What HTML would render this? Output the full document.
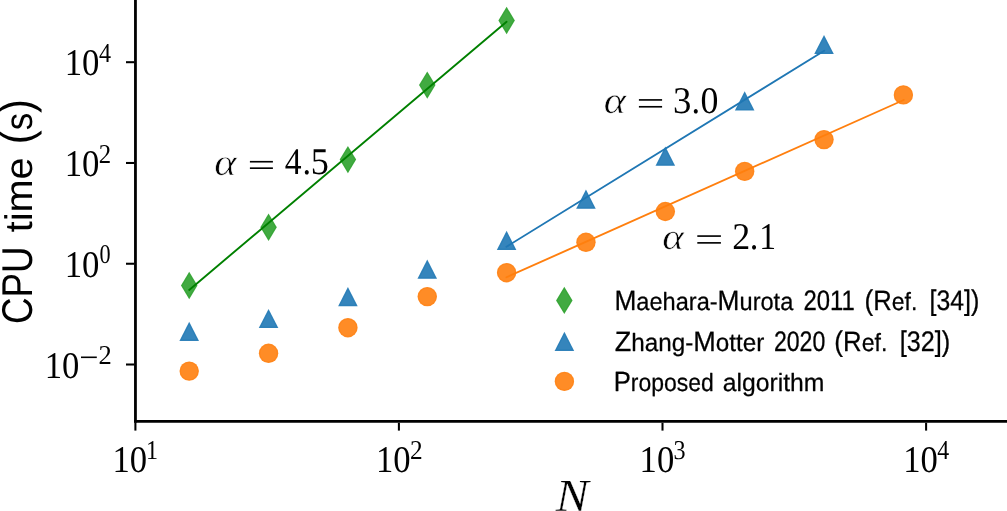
<!DOCTYPE html>
<html><head><meta charset="utf-8"><title>CPU time vs N</title>
<style>html,body{margin:0;padding:0;background:#fff;overflow:hidden}svg{display:block}</style>
</head><body><svg width="1007" height="511" viewBox="0 0 1007 511"><rect width="1007" height="511" fill="#fff"/><g><path d="M189.21 271.80L197.46 285.50L189.21 299.20L180.96 285.50Z" fill="rgb(65,170,65)"/><path d="M189.21 273.74L196.29 285.50L189.21 297.26L182.12 285.50Z" fill="none" stroke="#2ca02c" stroke-opacity="0.55" stroke-width="0.8"/><path d="M268.56 213.60L276.81 227.30L268.56 241.00L260.31 227.30Z" fill="rgb(65,170,65)"/><path d="M268.56 215.54L275.64 227.30L268.56 239.06L261.47 227.30Z" fill="none" stroke="#2ca02c" stroke-opacity="0.55" stroke-width="0.8"/><path d="M347.91 145.90L356.16 159.60L347.91 173.30L339.66 159.60Z" fill="rgb(65,170,65)"/><path d="M347.91 147.84L354.99 159.60L347.91 171.36L340.83 159.60Z" fill="none" stroke="#2ca02c" stroke-opacity="0.55" stroke-width="0.8"/><path d="M427.26 71.40L435.51 85.10L427.26 98.80L419.01 85.10Z" fill="rgb(65,170,65)"/><path d="M427.26 73.34L434.34 85.10L427.26 96.86L420.18 85.10Z" fill="none" stroke="#2ca02c" stroke-opacity="0.55" stroke-width="0.8"/><path d="M506.61 6.80L514.86 20.50L506.61 34.20L498.36 20.50Z" fill="rgb(65,170,65)"/><path d="M506.61 8.74L513.69 20.50L506.61 32.26L499.53 20.50Z" fill="none" stroke="#2ca02c" stroke-opacity="0.55" stroke-width="0.8"/><path d="M189.21 321.70L199.01 340.90L179.41 340.90Z" fill="rgb(53,133,188)"/><path d="M189.21 323.90L197.37 339.90L181.04 339.90Z" fill="none" stroke="#1f77b4" stroke-opacity="0.55" stroke-width="0.8"/><path d="M268.56 308.90L278.36 328.10L258.76 328.10Z" fill="rgb(53,133,188)"/><path d="M268.56 311.10L276.72 327.10L260.39 327.10Z" fill="none" stroke="#1f77b4" stroke-opacity="0.55" stroke-width="0.8"/><path d="M347.91 287.10L357.71 306.30L338.11 306.30Z" fill="rgb(53,133,188)"/><path d="M347.91 289.30L356.08 305.30L339.74 305.30Z" fill="none" stroke="#1f77b4" stroke-opacity="0.55" stroke-width="0.8"/><path d="M427.26 259.60L437.06 278.80L417.46 278.80Z" fill="rgb(53,133,188)"/><path d="M427.26 261.80L435.43 277.80L419.09 277.80Z" fill="none" stroke="#1f77b4" stroke-opacity="0.55" stroke-width="0.8"/><path d="M506.61 230.85L516.41 250.05L496.81 250.05Z" fill="rgb(53,133,188)"/><path d="M506.61 233.05L514.78 249.05L498.45 249.05Z" fill="none" stroke="#1f77b4" stroke-opacity="0.55" stroke-width="0.8"/><path d="M585.96 189.60L595.76 208.80L576.16 208.80Z" fill="rgb(53,133,188)"/><path d="M585.96 191.80L594.13 207.80L577.80 207.80Z" fill="none" stroke="#1f77b4" stroke-opacity="0.55" stroke-width="0.8"/><path d="M665.32 146.60L675.12 165.80L655.52 165.80Z" fill="rgb(53,133,188)"/><path d="M665.32 148.80L673.48 164.80L657.15 164.80Z" fill="none" stroke="#1f77b4" stroke-opacity="0.55" stroke-width="0.8"/><path d="M744.67 91.30L754.47 110.50L734.87 110.50Z" fill="rgb(53,133,188)"/><path d="M744.67 93.50L752.83 109.50L736.50 109.50Z" fill="none" stroke="#1f77b4" stroke-opacity="0.55" stroke-width="0.8"/><path d="M824.02 34.90L833.82 54.10L814.22 54.10Z" fill="rgb(53,133,188)"/><path d="M824.02 37.10L832.18 53.10L815.85 53.10Z" fill="none" stroke="#1f77b4" stroke-opacity="0.55" stroke-width="0.8"/><circle cx="189.21" cy="371.10" r="9.7" fill="rgb(255,140,38)"/><circle cx="189.21" cy="371.10" r="8.70" fill="none" stroke="#ff7f0e" stroke-opacity="0.55" stroke-width="0.8"/><circle cx="268.56" cy="353.30" r="9.7" fill="rgb(255,140,38)"/><circle cx="268.56" cy="353.30" r="8.70" fill="none" stroke="#ff7f0e" stroke-opacity="0.55" stroke-width="0.8"/><circle cx="347.91" cy="327.70" r="9.7" fill="rgb(255,140,38)"/><circle cx="347.91" cy="327.70" r="8.70" fill="none" stroke="#ff7f0e" stroke-opacity="0.55" stroke-width="0.8"/><circle cx="427.26" cy="296.60" r="9.7" fill="rgb(255,140,38)"/><circle cx="427.26" cy="296.60" r="8.70" fill="none" stroke="#ff7f0e" stroke-opacity="0.55" stroke-width="0.8"/><circle cx="506.61" cy="272.70" r="9.7" fill="rgb(255,140,38)"/><circle cx="506.61" cy="272.70" r="8.70" fill="none" stroke="#ff7f0e" stroke-opacity="0.55" stroke-width="0.8"/><circle cx="585.96" cy="242.30" r="9.7" fill="rgb(255,140,38)"/><circle cx="585.96" cy="242.30" r="8.70" fill="none" stroke="#ff7f0e" stroke-opacity="0.55" stroke-width="0.8"/><circle cx="665.32" cy="211.50" r="9.7" fill="rgb(255,140,38)"/><circle cx="665.32" cy="211.50" r="8.70" fill="none" stroke="#ff7f0e" stroke-opacity="0.55" stroke-width="0.8"/><circle cx="744.67" cy="171.40" r="9.7" fill="rgb(255,140,38)"/><circle cx="744.67" cy="171.40" r="8.70" fill="none" stroke="#ff7f0e" stroke-opacity="0.55" stroke-width="0.8"/><circle cx="824.02" cy="139.60" r="9.7" fill="rgb(255,140,38)"/><circle cx="824.02" cy="139.60" r="8.70" fill="none" stroke="#ff7f0e" stroke-opacity="0.55" stroke-width="0.8"/><circle cx="903.37" cy="94.90" r="9.7" fill="rgb(255,140,38)"/><circle cx="903.37" cy="94.90" r="8.70" fill="none" stroke="#ff7f0e" stroke-opacity="0.55" stroke-width="0.8"/><path d="M564.30 286.70L572.55 300.40L564.30 314.10L556.05 300.40Z" fill="rgb(65,170,65)"/><path d="M564.30 288.64L571.38 300.40L564.30 312.16L557.22 300.40Z" fill="none" stroke="#2ca02c" stroke-opacity="0.55" stroke-width="0.8"/><path d="M564.40 331.70L574.20 350.90L554.60 350.90Z" fill="rgb(53,133,188)"/><path d="M564.40 333.90L572.57 349.90L556.23 349.90Z" fill="none" stroke="#1f77b4" stroke-opacity="0.55" stroke-width="0.8"/><circle cx="564.40" cy="381.40" r="9.7" fill="rgb(255,140,38)"/><circle cx="564.40" cy="381.40" r="8.70" fill="none" stroke="#ff7f0e" stroke-opacity="0.55" stroke-width="0.8"/></g><g><line x1="189.2" y1="289.9" x2="506.6" y2="21.75" stroke="#008000" stroke-width="1.9" stroke-linecap="round"/><line x1="506.45" y1="246.7" x2="824.2" y2="50.7" stroke="#1f77b4" stroke-width="1.9" stroke-linecap="round"/><line x1="506.45" y1="277.25" x2="903.7" y2="100.0" stroke="#ff7f0e" stroke-width="1.9" stroke-linecap="round"/></g><g><line x1="135.45" y1="0" x2="135.45" y2="422.8" stroke="#000" stroke-width="2.8"/><line x1="134.05" y1="421.4" x2="1007" y2="421.4" stroke="#000" stroke-width="2.8"/><line x1="126.0" y1="62.20" x2="134.1" y2="62.20" stroke="#000" stroke-width="2.05"/><line x1="126.0" y1="162.97" x2="134.1" y2="162.97" stroke="#000" stroke-width="2.05"/><line x1="126.0" y1="263.74" x2="134.1" y2="263.74" stroke="#000" stroke-width="2.05"/><line x1="126.0" y1="364.51" x2="134.1" y2="364.51" stroke="#000" stroke-width="2.05"/><line x1="135.40" y1="422.8" x2="135.40" y2="430.6" stroke="#000" stroke-width="2.05"/><line x1="398.90" y1="422.8" x2="398.90" y2="430.6" stroke="#000" stroke-width="2.05"/><line x1="662.50" y1="422.8" x2="662.50" y2="430.6" stroke="#000" stroke-width="2.05"/><line x1="926.10" y1="422.8" x2="926.10" y2="430.6" stroke="#000" stroke-width="2.05"/></g><g fill="#000" opacity="0.999" text-rendering="geometricPrecision"><rect x="249.90" y="160.90" width="23.00" height="1.65"/><rect x="249.90" y="167.35" width="23.00" height="1.65"/><rect x="638.90" y="99.10" width="23.20" height="1.65"/><rect x="638.90" y="105.95" width="23.20" height="1.65"/><rect x="697.30" y="235.25" width="23.60" height="1.65"/><rect x="697.30" y="242.05" width="23.60" height="1.65"/><rect x="81.0" y="356.5" width="15.8" height="1.6"/><text transform="translate(64.71 75.30) scale(0.9212 1)" font-family="Liberation Serif" font-size="37.718">10</text><text transform="translate(99.06 62.00) scale(0.8863 1)" font-family="Liberation Serif" font-size="27.195">4</text><text transform="translate(64.71 176.07) scale(0.9212 1)" font-family="Liberation Serif" font-size="37.718">10</text><text transform="translate(98.86 162.77) scale(0.9116 1)" font-family="Liberation Serif" font-size="27.195">2</text><text transform="translate(64.71 276.84) scale(0.9212 1)" font-family="Liberation Serif" font-size="37.718">10</text><text transform="translate(99.38 263.14) scale(0.8174 1)" font-family="Liberation Serif" font-size="27.195">0</text><text transform="translate(44.72 377.61) scale(0.9182 1)" font-family="Liberation Serif" font-size="37.718">10</text><text transform="translate(98.58 364.11) scale(0.9767 1)" font-family="Liberation Serif" font-size="27.195">2</text><text transform="translate(112.52 472.00) scale(0.9182 1)" font-family="Liberation Serif" font-size="37.718">10</text><text transform="translate(145.89 458.90) scale(0.8842 1)" font-family="Liberation Serif" font-size="27.195">1</text><text transform="translate(376.02 472.00) scale(0.9182 1)" font-family="Liberation Serif" font-size="37.718">10</text><text transform="translate(409.94 458.90) scale(0.9302 1)" font-family="Liberation Serif" font-size="27.195">2</text><text transform="translate(639.62 472.00) scale(0.9182 1)" font-family="Liberation Serif" font-size="37.718">10</text><text transform="translate(673.59 458.90) scale(0.8889 1)" font-family="Liberation Serif" font-size="27.195">3</text><text transform="translate(903.22 472.00) scale(0.9182 1)" font-family="Liberation Serif" font-size="37.718">10</text><text transform="translate(937.16 458.90) scale(0.8784 1)" font-family="Liberation Serif" font-size="27.195">4</text><text transform="translate(214.23 174.92) scale(0.4235 0.3793)" font-family="Liberation Serif" font-style="italic" font-size="100.000" stroke="#fff" stroke-width="1.497" stroke-linejoin="round">α</text><text transform="translate(284.63 174.10) scale(0.8914 1)" font-family="Liberation Serif" font-size="37.718">4</text><text transform="translate(302.42 174.10) scale(0.9111 1)" font-family="Liberation Serif" font-size="37.718">.</text><text transform="translate(310.64 174.10) scale(0.9600 1)" font-family="Liberation Serif" font-size="37.718">5</text><text transform="translate(603.64 113.12) scale(0.4216 0.3751)" font-family="Liberation Serif" font-style="italic" font-size="100.000" stroke="#fff" stroke-width="1.509" stroke-linejoin="round">α</text><text transform="translate(673.10 112.50) scale(0.9742 1)" font-family="Liberation Serif" font-size="37.718">3</text><text transform="translate(691.62 112.50) scale(0.9111 1)" font-family="Liberation Serif" font-size="37.718">.</text><text transform="translate(700.48 112.50) scale(0.9500 1)" font-family="Liberation Serif" font-size="37.718">0</text><text transform="translate(662.16 248.93) scale(0.4137 0.3668)" font-family="Liberation Serif" font-style="italic" font-size="100.000" stroke="#fff" stroke-width="1.540" stroke-linejoin="round">α</text><text transform="translate(732.23 248.90) scale(0.9533 1)" font-family="Liberation Serif" font-size="37.718">2</text><text transform="translate(749.82 248.90) scale(0.9111 1)" font-family="Liberation Serif" font-size="37.718">.</text><text transform="translate(759.21 248.90) scale(0.8906 1)" font-family="Liberation Serif" font-size="37.718">1</text><text transform="translate(614.40 309.98) scale(0.9432 1)" font-family="Liberation Sans" font-size="25.000" stroke="#000" stroke-width="0.265" stroke-linejoin="round"><tspan font-size="27.918">M</tspan>aehara-<tspan font-size="27.918">M</tspan>urota</text><text transform="translate(803.45 309.98) scale(0.8476 1)" font-family="Liberation Sans" font-size="28.182" stroke="#000" stroke-width="0.295" stroke-linejoin="round">2011</text><text transform="translate(864.52 309.98) scale(0.9187 1)" font-family="Liberation Sans" font-size="25.000" stroke="#000" stroke-width="0.272" stroke-linejoin="round"><tspan font-size="28.495">(</tspan><tspan font-size="27.918">R</tspan>ef.</text><text transform="translate(929.56 309.98) scale(0.8802 1)" font-family="Liberation Sans" font-size="25.000" stroke="#000" stroke-width="0.284" stroke-linejoin="round"><tspan font-size="28.495">[</tspan><tspan font-size="28.182">34</tspan><tspan font-size="28.495">])</tspan></text><text transform="translate(614.76 350.98) scale(0.9699 1)" font-family="Liberation Sans" font-size="25.000" stroke="#000" stroke-width="0.258" stroke-linejoin="round"><tspan font-size="27.918">Z</tspan>hang-<tspan font-size="27.918">M</tspan>otter</text><text transform="translate(773.90 350.98) scale(0.8192 1)" font-family="Liberation Sans" font-size="28.182" stroke="#000" stroke-width="0.305" stroke-linejoin="round">2020</text><text transform="translate(834.31 350.98) scale(0.9224 1)" font-family="Liberation Sans" font-size="25.000" stroke="#000" stroke-width="0.271" stroke-linejoin="round"><tspan font-size="28.495">(</tspan><tspan font-size="27.918">R</tspan>ef.</text><text transform="translate(899.64 350.98) scale(0.8915 1)" font-family="Liberation Sans" font-size="25.000" stroke="#000" stroke-width="0.280" stroke-linejoin="round"><tspan font-size="28.495">[</tspan><tspan font-size="28.182">32</tspan><tspan font-size="28.495">])</tspan></text><text transform="translate(613.66 391.07) scale(0.9176 1)" font-family="Liberation Sans" font-size="25.000" stroke="#000" stroke-width="0.272" stroke-linejoin="round"><tspan font-size="27.918">P</tspan>roposed</text><text transform="translate(722.74 391.07) scale(0.9890 1)" font-family="Liberation Sans" font-size="25.000" stroke="#000" stroke-width="0.253" stroke-linejoin="round">algorithm</text><text transform="translate(32.30 323.97) rotate(-90) scale(0.8534 1)" font-family="Liberation Sans" font-size="43.094">CPU</text><text transform="translate(32.30 232.36) rotate(-90) scale(1.0291 1)" font-family="Liberation Sans" font-size="38.500">time</text><text transform="translate(32.30 144.34) rotate(-90) scale(0.9067 1)" font-family="Liberation Sans" font-size="38.500"><tspan font-size="46.237">(</tspan>s<tspan font-size="46.237">)</tspan></text><text transform="translate(555.72 511.15) scale(0.4944 0.4595)" font-family="Liberation Serif" font-style="italic" font-size="100.000" stroke="#fff" stroke-width="0.629" stroke-linejoin="round">N</text></g></svg></body></html>
